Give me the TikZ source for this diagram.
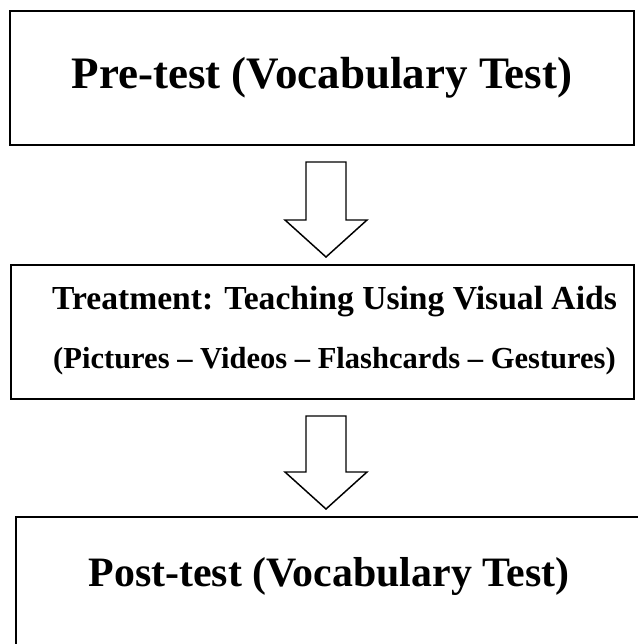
\documentclass[tikz,border=0pt]{standalone}
\usepackage{fontspec}
\setmainfont{Liberation Serif}
\usetikzlibrary{calc}

\begin{document}
\begin{tikzpicture}[x=0.75pt,y=-0.75pt,
                    stage box/.style={rectangle,draw,line width=1.5pt,inner sep=0pt,
                                      align=center},
                    hollow arrow/.style={draw,fill=white,line width=1.1pt,line join=miter}
                   ]
   \clip (0,0) rectangle (638,644);
   \coordinate (axis) at (326,0);
   \node[stage box,minimum width=468pt,minimum height=100.5pt,
         font=\bfseries\fontsize{33.75}{40}\selectfont] (pre) at (322,78)
         {Pre-test (Vocabulary Test)};
   \node[stage box,minimum width=467.25pt,minimum height=100.5pt] (treat) at (322.5,332) {};
   \node[align=center,inner sep=0pt,
         font=\bfseries\fontsize{25.2}{44.25}\selectfont] (treat text) at (334.5,331)
         {Treatment: Teaching Using Visual Aids\\
          {\fontsize{22.9}{44.25}\selectfont (Pictures – Videos – Flashcards – Gestures)}};
   \node[stage box,minimum width=469.5pt,minimum height=107.25pt,
         font=\bfseries\fontsize{31.4}{38}\selectfont,
         text height=21.75pt,text depth=25.5pt] (post) at (329,588.5)
         {Post-test (Vocabulary Test)};
   % block arrows between the stages
   \foreach \src/\dst in {pre/treat,treat/post}
      \draw[hollow arrow] ($(axis |- \src.south)+(-20,16)$) -- ++(40,0)
         -- ($(axis |- \dst.north)+(20,-44)$) -- ++(21,0)
         -- ($(axis |- \dst.north)+(0,-7)$)
         -- ($(axis |- \dst.north)+(-41,-44)$) -- ++(21,0) -- cycle;
\end{tikzpicture}
\end{document}
